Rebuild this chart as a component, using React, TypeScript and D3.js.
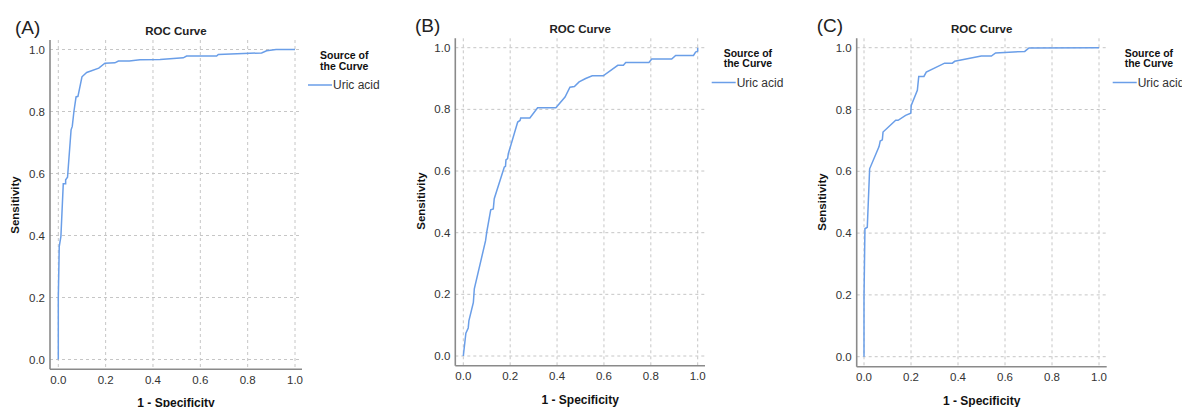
import * as d3 from "d3";
import React from "react";

// ROC points: [1 - specificity, sensitivity]
const rocA: [number, number][] = [
  [0, 0], [0, 0.2], [0.004, 0.364], [0.011, 0.397], [0.021, 0.567], [0.031, 0.567],
  [0.031, 0.58], [0.039, 0.588], [0.054, 0.741], [0.059, 0.752], [0.066, 0.8],
  [0.075, 0.847], [0.083, 0.849], [0.1, 0.912], [0.12, 0.926], [0.171, 0.94],
  [0.197, 0.956], [0.239, 0.957], [0.254, 0.963], [0.3, 0.963], [0.345, 0.967],
  [0.43, 0.968], [0.528, 0.973], [0.542, 0.979], [0.669, 0.979], [0.676, 0.984],
  [0.859, 0.989], [0.88, 0.996], [0.92, 1.0], [1.0, 1.0],
];

const rocB: [number, number][] = [
  [0, 0], [0.011, 0.074], [0.021, 0.091], [0.024, 0.115], [0.043, 0.174], [0.047, 0.218],
  [0.095, 0.374], [0.1, 0.402], [0.117, 0.474], [0.128, 0.477], [0.132, 0.51],
  [0.175, 0.613], [0.18, 0.615], [0.182, 0.636], [0.189, 0.64], [0.192, 0.656],
  [0.232, 0.759], [0.242, 0.764], [0.245, 0.772], [0.284, 0.772], [0.317, 0.805],
  [0.395, 0.805], [0.434, 0.84], [0.455, 0.872], [0.474, 0.874], [0.494, 0.889],
  [0.522, 0.9], [0.55, 0.909], [0.597, 0.909], [0.659, 0.943], [0.683, 0.943],
  [0.693, 0.952], [0.792, 0.952], [0.804, 0.963], [0.889, 0.963], [0.906, 0.975],
  [0.982, 0.975], [0.991, 0.986], [1.0, 0.989], [1.0, 1.0],
];

const rocC: [number, number][] = [
  [0, 0], [0, 0.192], [0.004, 0.414], [0.014, 0.419], [0.024, 0.608], [0.064, 0.68],
  [0.069, 0.698], [0.078, 0.702], [0.081, 0.727], [0.135, 0.765], [0.145, 0.765],
  [0.177, 0.781], [0.199, 0.788], [0.201, 0.813], [0.227, 0.862], [0.233, 0.907],
  [0.255, 0.907], [0.265, 0.921], [0.343, 0.95], [0.376, 0.95], [0.386, 0.956],
  [0.499, 0.973], [0.542, 0.973], [0.56, 0.983], [0.684, 0.988], [0.702, 0.999],
  [1.0, 1.0],
];

const panelLabels = ["(A)", "(B)", "(C)"];
const tickValues = [0, 0.2, 0.4, 0.6, 0.8, 1.0];
const seriesName = "Uric acid";

const FONT = "'Liberation Sans', Arial, sans-serif";
const LINE = "#6a9ee8";
const GRID = "#c6c6c6";

// pixel layout of each panel (x0/x1 = where 0 and 1 sit, etc.)
const layouts = [
  { axisX: 50, x0: 58.3, x1: 295, y0: 359.5, y1: 49.5, top: 40, base: 369.3, right: 302, labX: 15, titleY: 35, sensX: 15, sensY: 205, xlabY: 384, xtitleY: 407, legX: 308 },
  { axisX: 455.3, x0: 463.3, x1: 697.7, y0: 356, y1: 47.7, top: 38.3, base: 365.7, right: 705, labX: 415, titleY: 32.5, sensX: 421, sensY: 201, xlabY: 380, xtitleY: 403.5, legX: 711.7 },
  { axisX: 856.7, x0: 864, x1: 1099, y0: 356.7, y1: 47.7, top: 38.3, base: 366.7, right: 1106.7, labX: 816.7, titleY: 32.5, sensX: 822, sensY: 202, xlabY: 381, xtitleY: 404.5, legX: 1112.7 },
];

const datasets = [rocA, rocB, rocC];
const fmt = d3.format(".1f");

const Panel = ({ i }: { i: number }) => {
  const L = layouts[i];
  const data = datasets[i];
  const x = d3.scaleLinear().domain([0, 1]).range([L.x0, L.x1]);
  const y = d3.scaleLinear().domain([0, 1]).range([L.y0, L.y1]);
  const line = d3.line<[number, number]>().x((d) => x(d[0])).y((d) => y(d[1]));
  const cx = (L.axisX + L.right) / 2;

  return (
    <g>
      <text x={L.labX} y={L.titleY - 1} fontSize={19} fill="#222">{panelLabels[i]}</text>
      <text x={cx} y={L.titleY} fontSize={11.5} fontWeight="bold" textAnchor="middle" fill="#222">ROC Curve</text>

      {tickValues.map((t) => (
        <line key={"gx" + t} x1={x(t)} x2={x(t)} y1={L.top} y2={L.base} stroke={GRID} strokeDasharray="3,3" />
      ))}
      {tickValues.map((t) => (
        <line key={"gy" + t} x1={L.axisX} x2={L.right} y1={y(t)} y2={y(t)} stroke={GRID} strokeDasharray="3,3" />
      ))}

      <line x1={L.axisX} x2={L.axisX} y1={L.top} y2={L.base} stroke="#8a8a8a" strokeWidth={1.6} />
      <line x1={L.axisX} x2={L.right} y1={L.base} y2={L.base} stroke="#8a8a8a" strokeWidth={1.6} />

      {tickValues.map((t) => (
        <text key={"ty" + t} x={L.axisX - 5} y={y(t) + 4} fontSize={11.5} textAnchor="end" fill="#333">{fmt(t)}</text>
      ))}
      {tickValues.map((t) => (
        <text key={"tx" + t} x={x(t)} y={L.xlabY} fontSize={11.5} textAnchor="middle" fill="#333">{fmt(t)}</text>
      ))}

      <text x={cx} y={L.xtitleY} fontSize={12} fontWeight="bold" textAnchor="middle" fill="#111">1 - Specificity</text>
      <text transform={`translate(${L.sensX + 4},${L.sensY}) rotate(-90)`} fontSize={11.5} fontWeight="bold" textAnchor="middle" fill="#111">Sensitivity</text>

      <path d={line(data) ?? ""} fill="none" stroke={LINE} strokeWidth={1.5} />

      <text x={L.legX + 12} y={L.titleY + 24} fontSize={10.5} fontWeight="bold" fill="#111">Source of</text>
      <text x={L.legX + 12} y={L.titleY + 34.5} fontSize={10.5} fontWeight="bold" fill="#111">the Curve</text>
      <line x1={L.legX} x2={L.legX + 24} y1={L.titleY + 50} y2={L.titleY + 50} stroke={LINE} strokeWidth={1.5} />
      <text x={L.legX + 25} y={L.titleY + 54} fontSize={12} fill="#333">{seriesName}</text>
    </g>
  );
};

const App = () => {
  return (
    <svg
      width={1182}
      height={407}
      style={{ position: "absolute", left: 0, top: 0, background: "#fff" }}
      fontFamily={FONT}
    >
      <rect width={1182} height={407} fill="#fff" />
      {layouts.map((_, i) => (
        <Panel key={i} i={i} />
      ))}
    </svg>
  );
};

export default App;
